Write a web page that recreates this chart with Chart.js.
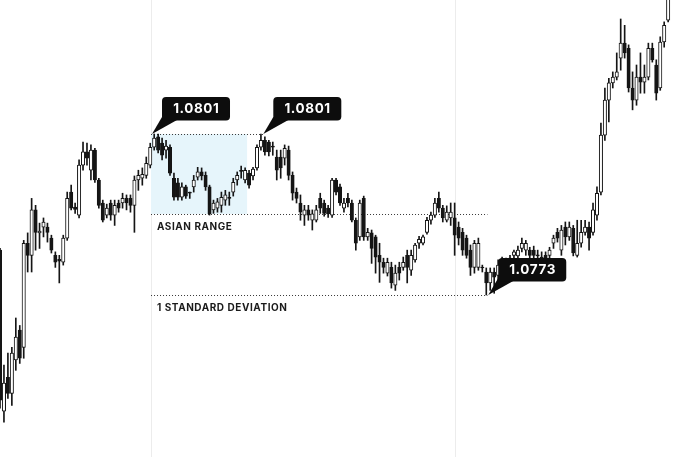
<!DOCTYPE html>
<html>
<head>
<meta charset="utf-8">
<script src="https://cdn.jsdelivr.net/npm/chart.js@4.4.1/dist/chart.umd.min.js"></script>
<style>
html,body{margin:0;padding:0;background:#ffffff;}
canvas{display:block;}
</style>
</head>
<body>
<canvas id="c" width="680" height="457"></canvas>
<script>
// ---- DATA (candles) ----
const categories = Array.from({length: 173}, (_, i) => String(i));

const opens = [
1.07808,1.07528,1.07587,1.07559,1.07617,1.07669,1.07639,1.07820,1.07799,1.07878,
1.07838,1.07848,1.07848,1.07829,1.07799,1.07792,1.07787,1.07829,1.07909,1.07883,
1.07869,1.07956,1.07979,1.07947,1.07982,1.07930,1.07890,1.07869,1.07890,1.07869,
1.07890,1.07890,1.07898,1.07898,1.07886,1.07930,1.07933,1.07938,1.07956,1.07987,
1.08005,1.07994,1.07982,1.07987,1.07933,1.07925,1.07900,1.07918,1.07909,1.07918,
1.07935,1.07944,1.07938,1.07918,1.07878,1.07881,1.07886,1.07895,1.07900,1.07909,
1.07930,1.07947,1.07930,1.07942,1.07937,1.07951,1.07987,1.07999,1.07996,1.07989,
1.07970,1.07970,1.07968,1.07982,1.07938,1.07909,1.07890,1.07869,1.07878,1.07860,
1.07860,1.07898,1.07890,1.07881,1.07869,1.07930,1.07918,1.07881,1.07898,1.07890,
1.07860,1.07831,1.07898,1.07831,1.07838,1.07831,1.07799,1.07787,1.07768,1.07778,
1.07747,1.07778,1.07778,1.07799,1.07773,1.07791,1.07820,1.07820,1.07839,1.07860,
1.07869,1.07898,1.07881,1.07860,1.07864,1.07864,1.07848,1.07839,1.07829,1.07808,
1.07778,1.07778,1.07778,1.07770,1.07751,1.07770,1.07764,1.07777,1.07787,1.07782,
1.07799,1.07798,1.07811,1.07808,1.07808,1.07808,1.07799,1.07796,1.07799,1.07799,
1.07820,1.07839,1.07808,1.07848,1.07831,1.07846,1.07799,1.07820,1.07839,1.07848,
1.07839,1.07869,1.07909,1.08008,1.08069,1.08099,1.08109,1.08142,1.08168,1.08159,
1.08090,1.08069,1.08109,1.08100,1.08109,1.08159,1.08130,1.08090,1.08170,1.08208
];
const highs = [
1.07811,1.07608,1.07629,1.07639,1.07690,1.07677,1.07825,1.07838,1.07898,1.07886,
1.07855,1.07864,1.07855,1.07834,1.07805,1.07799,1.07834,1.07909,1.07921,1.07890,
1.07965,1.07996,1.07994,1.07991,1.07985,1.07933,1.07895,1.07888,1.07895,1.07895,
1.07895,1.07907,1.07904,1.07904,1.07937,1.07947,1.07951,1.07970,1.07994,1.08010,
1.08010,1.08003,1.07999,1.07991,1.07942,1.07933,1.07925,1.07921,1.07909,1.07938,
1.07952,1.07951,1.07944,1.07921,1.07895,1.07898,1.07909,1.07912,1.07909,1.07933,
1.07944,1.07954,1.07951,1.07947,1.07952,1.07991,1.08010,1.08005,1.07999,1.07996,
1.07982,1.07982,1.07991,1.07989,1.07944,1.07916,1.07904,1.07886,1.07886,1.07878,
1.07886,1.07907,1.07895,1.07886,1.07933,1.07933,1.07923,1.07898,1.07907,1.07895,
1.07864,1.07895,1.07902,1.07846,1.07843,1.07834,1.07820,1.07794,1.07794,1.07787,
1.07782,1.07787,1.07796,1.07808,1.07808,1.07820,1.07832,1.07834,1.07865,1.07874,
1.07898,1.07909,1.07886,1.07885,1.07890,1.07890,1.07857,1.07846,1.07834,1.07817,
1.07825,1.07829,1.07782,1.07777,1.07777,1.07777,1.07791,1.07796,1.07794,1.07799,
1.07808,1.07815,1.07829,1.07825,1.07813,1.07815,1.07808,1.07805,1.07805,1.07813,
1.07834,1.07846,1.07851,1.07857,1.07857,1.07851,1.07860,1.07860,1.07860,1.07857,
1.07890,1.07918,1.08029,1.08090,1.08107,1.08118,1.08151,1.08210,1.08199,1.08165,
1.08118,1.08130,1.08151,1.08130,1.08168,1.08168,1.08139,1.08179,1.08205,1.08260
];
const lows = [
1.07533,1.07509,1.07550,1.07538,1.07599,1.07611,1.07620,1.07770,1.07770,1.07808,
1.07811,1.07831,1.07822,1.07803,1.07778,1.07751,1.07782,1.07825,1.07878,1.07872,
1.07864,1.07947,1.07956,1.07930,1.07926,1.07881,1.07857,1.07864,1.07860,1.07851,
1.07874,1.07881,1.07878,1.07874,1.07839,1.07912,1.07921,1.07933,1.07951,1.07982,
1.07977,1.07965,1.07968,1.07938,1.07895,1.07895,1.07895,1.07898,1.07898,1.07909,
1.07930,1.07930,1.07912,1.07869,1.07872,1.07874,1.07874,1.07886,1.07886,1.07902,
1.07921,1.07933,1.07925,1.07916,1.07930,1.07947,1.07982,1.07973,1.07972,1.07973,
1.07930,1.07933,1.07956,1.07930,1.07895,1.07890,1.07860,1.07851,1.07860,1.07843,
1.07857,1.07872,1.07867,1.07865,1.07865,1.07904,1.07886,1.07874,1.07883,1.07857,
1.07808,1.07825,1.07825,1.07825,1.07785,1.07768,1.07752,1.07768,1.07763,1.07742,
1.07738,1.07756,1.07773,1.07751,1.07764,1.07787,1.07811,1.07817,1.07836,1.07853,
1.07865,1.07874,1.07857,1.07857,1.07851,1.07799,1.07817,1.07799,1.07794,1.07764,
1.07768,1.07773,1.07770,1.07730,1.07738,1.07733,1.07756,1.07770,1.07773,1.07777,
1.07794,1.07794,1.07805,1.07799,1.07794,1.07794,1.07791,1.07787,1.07787,1.07794,
1.07811,1.07822,1.07799,1.07817,1.07825,1.07798,1.07796,1.07813,1.07834,1.07808,
1.07834,1.07860,1.07904,1.07999,1.08031,1.08090,1.08104,1.08121,1.08142,1.08083,
1.08052,1.08060,1.08081,1.08081,1.08104,1.08135,1.08069,1.08086,1.08161,1.08205
];
const closes = [
1.07547,1.07577,1.07559,1.07629,1.07657,1.07620,1.07820,1.07799,1.07878,1.07839,
1.07841,1.07857,1.07839,1.07808,1.07787,1.07789,1.07829,1.07898,1.07881,1.07879,
1.07956,1.07979,1.07968,1.07982,1.07930,1.07886,1.07860,1.07881,1.07869,1.07886,
1.07881,1.07898,1.07890,1.07886,1.07930,1.07938,1.07940,1.07959,1.07987,1.08003,
1.07982,1.07973,1.07989,1.07942,1.07900,1.07900,1.07918,1.07902,1.07907,1.07930,
1.07944,1.07937,1.07918,1.07871,1.07890,1.07892,1.07900,1.07904,1.07898,1.07926,
1.07938,1.07945,1.07947,1.07921,1.07949,1.07987,1.07999,1.07979,1.07979,1.07987,
1.07947,1.07951,1.07985,1.07938,1.07907,1.07898,1.07874,1.07878,1.07869,1.07871,
1.07878,1.07881,1.07872,1.07871,1.07930,1.07909,1.07890,1.07890,1.07890,1.07860,
1.07820,1.07890,1.07831,1.07839,1.07811,1.07796,1.07787,1.07778,1.07787,1.07751,
1.07768,1.07768,1.07787,1.07778,1.07799,1.07817,1.07827,1.07831,1.07860,1.07869,
1.07890,1.07881,1.07864,1.07874,1.07874,1.07834,1.07829,1.07808,1.07799,1.07778,
1.07820,1.07820,1.07777,1.07751,1.07770,1.07761,1.07782,1.07787,1.07780,1.07794,
1.07805,1.07808,1.07820,1.07820,1.07799,1.07799,1.07798,1.07794,1.07794,1.07808,
1.07829,1.07829,1.07843,1.07831,1.07848,1.07803,1.07820,1.07839,1.07848,1.07829,
1.07878,1.07907,1.08008,1.08069,1.08099,1.08109,1.08118,1.08168,1.08151,1.08090,
1.08069,1.08109,1.08100,1.08109,1.08159,1.08139,1.08081,1.08170,1.08199,1.08257
];

// annotation values
const sessionBreaks = [38.2, 115.1];
const asianRange = {from: 38.2, to: 62.5, high: 1.0801, low: 1.07871};
const levelLines = [
  {value: 1.0801,  from: 38.2, to: 66.6},
  {value: 1.07871, from: 38.2, to: 123.3},
  {value: 1.0773,  from: 38.2, to: 123.3}
];
const levelTexts = [
  {text: 'ASIAN RANGE', value: 1.07871, at: 39.7, dy: 16.5},
  {text: '1 STANDARD DEVIATION', value: 1.0773, at: 39.7, dy: 16.5}
];
const callouts = [
  {text: '1.0801', at: 38.45, value: 1.0801},
  {text: '1.0801', at: 66.6,  value: 1.0801},
  {text: '1.0773', at: 123.5, value: 1.0773}
];

// ---- chart ----
const wickData = lows.map((l, i) => [l, highs[i]]);
const bodyData = opens.map((o, i) => [o, closes[i]]);
const bodyColors = opens.map((o, i) => closes[i] >= o ? '#ffffff' : '#151515');

const overlay = {
  id: 'overlay',
  beforeDatasetsDraw(chart) {
    const {ctx, scales: {x, y}, chartArea} = chart;
    ctx.save();
    ctx.strokeStyle = '#ececec';
    ctx.lineWidth = 1;
    sessionBreaks.forEach(b => {
      const px = Math.round(x.getPixelForValue(b)) + 0.5;
      ctx.beginPath(); ctx.moveTo(px, chartArea.top); ctx.lineTo(px, chartArea.bottom); ctx.stroke();
    });
    const x1 = x.getPixelForValue(asianRange.from), x2 = x.getPixelForValue(asianRange.to);
    const y1 = y.getPixelForValue(asianRange.high), y2 = y.getPixelForValue(asianRange.low);
    ctx.fillStyle = '#e6f5fb';
    ctx.fillRect(x1, y1, x2 - x1, y2 - y1);
    ctx.strokeStyle = '#3a3a3a';
    ctx.setLineDash([1, 2]);
    levelLines.forEach(l => {
      const py = Math.round(y.getPixelForValue(l.value)) + 0.5;
      ctx.beginPath();
      ctx.moveTo(x.getPixelForValue(l.from), py);
      ctx.lineTo(x.getPixelForValue(l.to), py);
      ctx.stroke();
    });
    ctx.setLineDash([]);
    ctx.fillStyle = '#1a1a1a';
    ctx.font = 'bold 10px Inter, "Liberation Sans", sans-serif';
    ctx.letterSpacing = '0.55px';
    ctx.textBaseline = 'alphabetic';
    ctx.textAlign = 'left';
    levelTexts.forEach(t => {
      ctx.fillText(t.text, x.getPixelForValue(t.at), y.getPixelForValue(t.value) + t.dy);
    });
    ctx.restore();
  },
  afterDatasetsDraw(chart) {
    const {ctx, scales: {x, y}} = chart;
    ctx.save();
    callouts.forEach(c => {
      const tx = x.getPixelForValue(c.at), ty = y.getPixelForValue(c.value);
      ctx.fillStyle = '#0d0d0d';
      ctx.beginPath();
      ctx.moveTo(tx, ty);
      ctx.lineTo(tx + 10, ty - 17);
      ctx.lineTo(tx + 25, ty - 14);
      ctx.closePath();
      ctx.fill();
      const bx = tx + 10, by = ty - 37, bw = 68, bh = 23.5;
      ctx.beginPath();
      ctx.roundRect(bx, by, bw, bh, 4);
      ctx.fill();
      ctx.fillStyle = '#ffffff';
      ctx.font = 'bold 13.5px Inter, "Liberation Sans", sans-serif';
      ctx.letterSpacing = '0.6px';
      ctx.textAlign = 'center';
      ctx.textBaseline = 'middle';
      ctx.fillText(c.text, bx + bw / 2 + 0.3, by + bh / 2 + 0.5);
    });
    ctx.restore();
  }
};

new Chart(document.getElementById('c'), {
  type: 'bar',
  data: {
    labels: categories,
    datasets: [
      {
        label: 'body',
        data: bodyData,
        backgroundColor: bodyColors,
        borderColor: '#151515',
        borderWidth: 1,
        borderSkipped: false,
        barThickness: 3.4,
        minBarLength: 1,
        grouped: false,
        order: 0
      },
      {
        label: 'wick',
        data: wickData,
        backgroundColor: '#151515',
        borderWidth: 0,
        barThickness: 1,
        grouped: false,
        order: 1
      }
    ]
  },
  options: {
    responsive: false,
    animation: false,
    layout: {padding: 0},
    plugins: {legend: {display: false}, tooltip: {enabled: false}},
    scales: {
      x: {type: 'category', offset: false, display: false, grid: {display: false}},
      y: {min: 1.0744826, max: 1.0824304, display: false, grid: {display: false}}
    }
  },
  plugins: [overlay]
});
</script>
</body>
</html>
